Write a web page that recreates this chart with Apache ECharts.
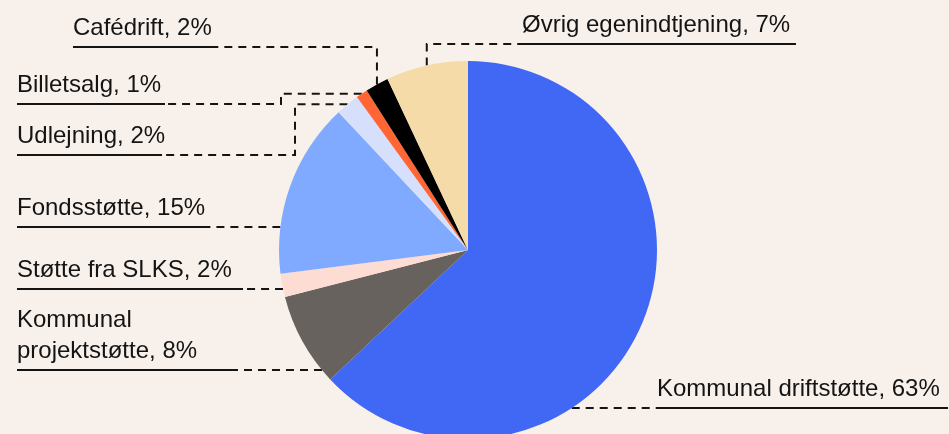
<!DOCTYPE html>
<html>
<head>
<meta charset="utf-8">
<script src="https://cdn.jsdelivr.net/npm/echarts@6/dist/echarts.min.js"></script>
<style>
  html, body { margin: 0; padding: 0; background: #f8f0ea; }
  #chart { width: 949px; height: 434px; }
</style>
</head>
<body>
<div id="chart"></div>
<script>
// Income sources, in percent of the total budget (clockwise from 12 o'clock)
const categories = [
  'Kommunal driftstøtte',
  'Kommunal projektstøtte',
  'Støtte fra SLKS',
  'Fondsstøtte',
  'Udlejning',
  'Billetsalg',
  'Cafédrift',
  'Øvrig egenindtjening'
];
const shares = [63, 8, 2, 15, 2, 1, 2, 7];
const sliceColors = ['#4068f4', '#67625e', '#fddcd3', '#80aaff', '#d6dffb', '#ff6633', '#000000', '#f4dba7'];

// Pie geometry (pixels)
const CX = 468, CY = 250, R = 189;

// Label placement: left edge, underline height, underline length, leader route
const labelPlacement = [
  { x: 657, line: 408, len: 291, route: 'h' },
  { x: 17,  line: 370, len: 221, route: 'h' },
  { x: 17,  line: 289, len: 226, route: 'h' },
  { x: 17,  line: 227, len: 191, route: 'h' },
  { x: 17,  line: 155, len: 145, route: 'elbow', bend: 295 },
  { x: 17,  line: 104, len: 148, route: 'elbow', bend: 281 },
  { x: 73,  line: 47,  len: 144, route: 'up' },
  { x: 522, line: 44,  len: 274, route: 'up' }
];

const total = shares.reduce((a, b) => a + b, 0);
const anchors = [];
(function () {
  let cum = 0;
  shares.forEach(v => {
    const theta = (cum + v / 2) / total * Math.PI * 2;
    anchors.push([CX + R * Math.sin(theta), CY - R * Math.cos(theta)]);
    cum += v;
  });
})();

function labelText(i) {
  const name = i === 1 ? 'Kommunal\nprojektstøtte' : categories[i];
  return name + ', ' + shares[i] + '%';
}

function underlinePoints(i) {
  const p = labelPlacement[i];
  return [[p.x, p.line], [(p.x + p.x + p.len) / 2, p.line], [p.x + p.len, p.line]];
}

function leaderPoints(i) {
  const p = labelPlacement[i];
  const right = p.x > CX;
  const near = right ? [p.x, p.line] : [p.x + p.len, p.line];
  const a = anchors[i];
  if (p.route === 'h') {
    const dx = Math.sqrt(Math.max(0, R * R - (p.line - CY) * (p.line - CY)));
    const edge = [right ? CX + dx : CX - dx, p.line];
    return [edge, [(edge[0] + near[0]) / 2, p.line], near];
  }
  if (p.route === 'elbow') {
    return [a, [p.bend, a[1]], [p.bend, p.line], near];
  }
  return [a, [a[0], p.line], near];
}

function labelPos(i) {
  const p = labelPlacement[i];
  return { x: p.x, y: p.line - 3, align: 'left', verticalAlign: 'bottom' };
}

const pieData = categories.map((name, i) => ({
  name: name,
  value: shares[i],
  itemStyle: { color: sliceColors[i] }
}));

const labelFont = {
  fontFamily: 'Liberation Sans, Arial, sans-serif',
  fontSize: 24,
  lineHeight: 31
};

const chart = echarts.init(document.getElementById('chart'), null, { renderer: 'canvas' });
chart.setOption({
  backgroundColor: '#f8f0ea',
  animation: false,
  series: [
    {
      type: 'pie',
      center: [CX, CY],
      radius: R,
      startAngle: 90,
      clockwise: true,
      avoidLabelOverlap: false,
      minShowLabelAngle: 0,
      data: pieData,
      itemStyle: { borderWidth: 0 },
      emphasis: { disabled: true },
      label: Object.assign({
        show: true,
        position: 'outside',
        color: '#141414',
        formatter: p => labelText(p.dataIndex)
      }, labelFont),
      labelLine: {
        show: true,
        smooth: false,
        lineStyle: { color: '#141414', width: 2, type: 'solid' }
      },
      labelLayout: params => Object.assign(labelPos(params.dataIndex), {
        labelLinePoints: underlinePoints(params.dataIndex)
      })
    },
    {
      // transparent twin carrying the dashed leaders
      type: 'pie',
      center: [CX, CY],
      radius: R,
      startAngle: 90,
      clockwise: true,
      avoidLabelOverlap: false,
      minShowLabelAngle: 0,
      silent: true,
      data: pieData.map(d => ({ name: d.name, value: d.value, itemStyle: { color: 'transparent' } })),
      emphasis: { disabled: true },
      label: Object.assign({
        show: true,
        position: 'outside',
        color: 'transparent',
        formatter: p => labelText(p.dataIndex)
      }, labelFont),
      labelLine: {
        show: true,
        smooth: false,
        lineStyle: { color: '#141414', width: 2, type: [8, 6] }
      },
      labelLayout: params => Object.assign(labelPos(params.dataIndex), {
        labelLinePoints: leaderPoints(params.dataIndex)
      })
    }
  ]
});
</script>
</body>
</html>
